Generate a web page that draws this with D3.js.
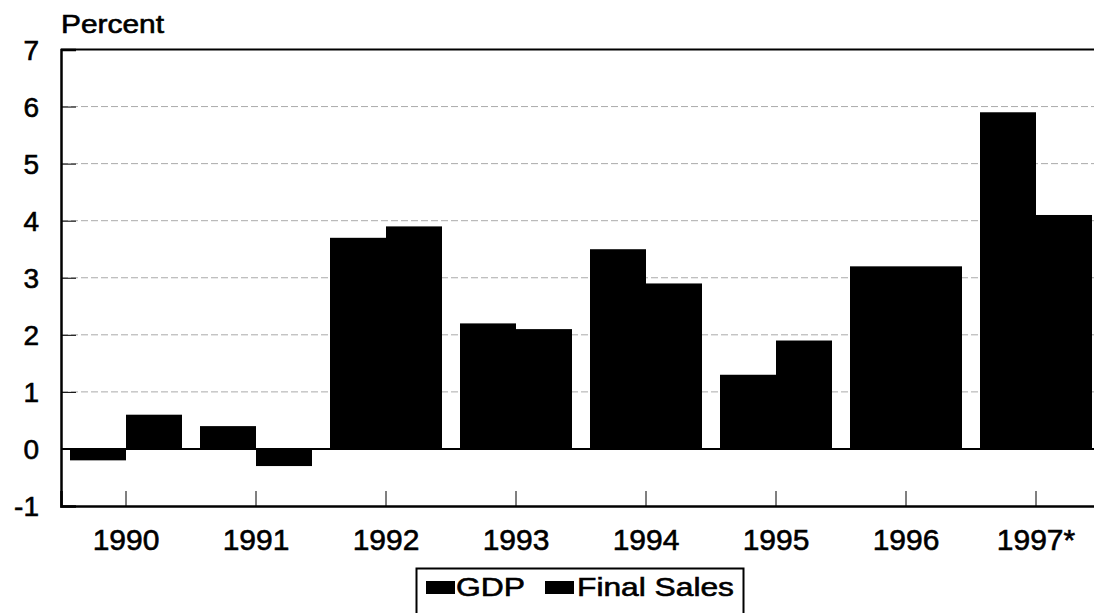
<!DOCTYPE html>
<html>
<head>
<meta charset="utf-8">
<script src="https://cdn.jsdelivr.net/npm/d3@7"></script>
<style>
  html, body { margin: 0; padding: 0; background: #fff; }
  svg { display: block; }
  text { font-family: "Liberation Sans", Arial, sans-serif; fill: #000; stroke: #000; stroke-width: 0.6px; }
</style>
</head>
<body>
<svg id="chart" width="1094" height="613"></svg>
<script>
const years = ["1990", "1991", "1992", "1993", "1994", "1995", "1996", "1997*"];
const gdp = [-0.2, 0.4, 3.7, 2.2, 3.5, 1.3, 3.2, 5.9];
const finalSales = [0.6, -0.3, 3.9, 2.1, 2.9, 1.9, 3.2, 4.1];
const seriesNames = ["GDP", "Final Sales"];
const yTicks = [-1, 0, 1, 2, 3, 4, 5, 6, 7];

const svg = d3.select("#chart");
const plotLeft = 61, plotTop = 49.5, plotBottom = 506;
const bandW = 130;

const x = d3.scaleBand().domain(years).range([plotLeft, plotLeft + bandW * years.length]).padding(0);
const x1 = d3.scaleBand().domain(seriesNames).range([9, bandW - 9]).padding(0);
const y = d3.scaleLinear().domain([-1, 7]).range([plotBottom, plotTop]);

const rows = years.map((yr, i) => ({ year: yr, values: [
  { key: "GDP", v: gdp[i] }, { key: "Final Sales", v: finalSales[i] } ] }));

// gridlines
svg.append("g").selectAll("line")
  .data(yTicks.filter(t => t > 0 && t < 7))
  .join("line")
  .attr("x1", plotLeft).attr("x2", 1094)
  .attr("y1", d => y(d)).attr("y2", d => y(d))
  .attr("stroke", "#aaa").attr("stroke-width", 1)
  .attr("stroke-dasharray", "7,3");

// bars
svg.append("g").selectAll("g")
  .data(rows).join("g")
  .attr("transform", d => `translate(${x(d.year)},0)`)
  .selectAll("rect")
  .data(d => d.values).join("rect")
  .attr("x", d => x1(d.key))
  .attr("width", x1.bandwidth())
  .attr("y", d => y(Math.max(0, d.v)))
  .attr("height", d => Math.abs(y(d.v) - y(0)))
  .attr("fill", "#000");

// zero line
svg.append("line")
  .attr("x1", plotLeft).attr("x2", 1094)
  .attr("y1", y(0)).attr("y2", y(0))
  .attr("stroke", "#000").attr("stroke-width", 2);

// top border
svg.append("line")
  .attr("x1", plotLeft).attr("x2", 1094)
  .attr("y1", y(7)).attr("y2", y(7))
  .attr("stroke", "#000").attr("stroke-width", 2);

// y axis
const yAxis = d3.axisRight(y).tickValues(yTicks).tickSize(15).tickFormat("");
const gy = svg.append("g").attr("transform", `translate(${plotLeft},0)`).call(yAxis);
gy.select(".domain").attr("stroke-width", 2.5);
gy.selectAll(".tick line").attr("stroke-width", 1);

svg.append("g").selectAll("text")
  .data(yTicks).join("text")
  .attr("x", 39).attr("y", d => y(d))
  .attr("dy", "0.36em")
  .attr("text-anchor", "end")
  .style("font-size", "28px")
  .text(d => d);

// x axis
const xAxis = d3.axisTop(x).tickSize(15).tickFormat("");
const gx = svg.append("g").attr("transform", `translate(0,${plotBottom})`).call(xAxis);
gx.select(".domain").attr("stroke-width", 2.5);
gx.selectAll(".tick line").attr("stroke-width", 1);

svg.append("g").selectAll("text")
  .data(years).join("text")
  .attr("x", d => x(d) + x.bandwidth() / 2)
  .attr("y", 550)
  .attr("text-anchor", "middle")
  .style("font-size", "30px")
  .text(d => d);

// y label
svg.append("text")
  .attr("x", 61).attr("y", 33)
  .attr("textLength", 103).attr("lengthAdjust", "spacingAndGlyphs")
  .style("font-size", "25px")
  .text("Percent");

// legend
const lg = svg.append("g");
lg.append("rect")
  .attr("x", 416.5).attr("y", 568.5).attr("width", 327).attr("height", 60)
  .attr("fill", "none").attr("stroke", "#000").attr("stroke-width", 2);
const legendItems = [
  { name: seriesNames[0], sx: 426, tx: 456, tw: 69 },
  { name: seriesNames[1], sx: 545, tx: 577, tw: 157 }
];
legendItems.forEach(it => {
  lg.append("rect").attr("x", it.sx).attr("y", 581).attr("width", 29).attr("height", 13).attr("fill", "#000");
  lg.append("text").attr("x", it.tx).attr("y", 596)
    .attr("textLength", it.tw).attr("lengthAdjust", "spacingAndGlyphs")
    .style("font-size", "26px").text(it.name);
});
</script>
</body>
</html>
